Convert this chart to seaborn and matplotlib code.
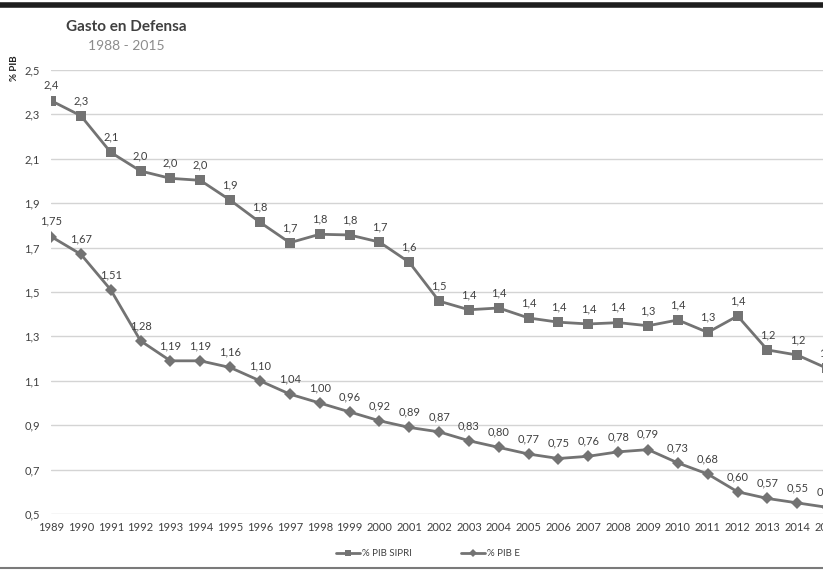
import pandas as pd
import matplotlib
matplotlib.use("Agg")
import matplotlib.pyplot as plt
import seaborn as sns
from matplotlib.ticker import FuncFormatter

# Datos
anios = list(range(1989, 2016))
pib_sipri = [2.362, 2.294, 2.129, 2.045, 2.012, 2.003, 1.914, 1.814, 1.722, 1.760,
             1.757, 1.725, 1.634, 1.459, 1.420, 1.428, 1.383, 1.364, 1.356, 1.362,
             1.348, 1.374, 1.318, 1.392, 1.239, 1.216, 1.156]
pib_e = [1.75, 1.67, 1.51, 1.28, 1.19, 1.19, 1.16, 1.10, 1.04, 1.00,
         0.96, 0.92, 0.89, 0.87, 0.83, 0.80, 0.77, 0.75, 0.76, 0.78,
         0.79, 0.73, 0.68, 0.60, 0.57, 0.55, 0.53]
series = ['% PIB SIPRI', '% PIB E']
y_ticks = [0.5, 0.7, 0.9, 1.1, 1.3, 1.5, 1.7, 1.9, 2.1, 2.3, 2.5]

df = pd.DataFrame({
    'anio': anios * 2,
    'valor': pib_sipri + pib_e,
    'serie': [series[0]] * len(anios) + [series[1]] * len(anios),
})

sns.set_style("white")
plt.rcParams['font.family'] = ['Lato', 'DejaVu Sans']

gris = '#737373'
fig = plt.figure(figsize=(8.23, 5.72), dpi=100)
ax = fig.add_axes([51 / 823, 58 / 572, 806 / 823, 444 / 572])

sns.lineplot(data=df, x='anio', y='valor', hue='serie', style='serie',
             palette={series[0]: gris, series[1]: gris},
             markers={series[0]: 's', series[1]: 'D'}, dashes=False,
             linewidth=2, markersize=6.5, markeredgewidth=0, ax=ax)

# etiquetas de datos
for serie, vals, dec in [(series[0], pib_sipri, 1), (series[1], pib_e, 2)]:
    for a, v in zip(anios, vals):
        txt = f"{v:.{dec}f}".replace('.', ',')
        ax.annotate(txt, (a, v), xytext=(0, 11), textcoords='offset points',
                    ha='center', va='center', fontsize=8, color='#404040',
                    annotation_clip=False)

ax.set_xlim(1989, 2016)
ax.set_ylim(0.5, 2.5)
ax.set_xticks(anios)
ax.set_yticks(y_ticks)
ax.yaxis.set_major_formatter(FuncFormatter(lambda v, p: f"{v:.1f}".replace('.', ',')))
ax.grid(axis='y', color='#d4d4d4', linewidth=1)
ax.grid(axis='x', visible=False)
for s in ax.spines.values():
    s.set_visible(False)
ax.tick_params(axis='both', length=0, labelsize=8, colors='#404040')
ax.tick_params(axis='x', pad=6)
ax.tick_params(axis='y', pad=8)
ax.set_xlabel('')
ax.set_ylabel('')

# leyenda
handles, labels = ax.get_legend_handles_labels()
leg = ax.legend(handles, labels, loc='center', bbox_to_anchor=(428 / 823, 1 - 554 / 572),
                bbox_transform=fig.transFigure, ncol=2, frameon=False, fontsize=7,
                handlelength=2.5, columnspacing=5, handletextpad=0.2,
                labelcolor='#404040')
for h in leg.legend_handles:
    h.set_markersize(4.5)

# titulos
fig.text(66 / 823, 1 - 27 / 572, 'Gasto en Defensa', fontsize=11, fontweight='bold',
         color='#404040', ha='left', va='center')
fig.text(126 / 823, 1 - 46 / 572, '1988 - 2015', fontsize=10, color='#8c8c8c',
         ha='center', va='center')
fig.text(15 / 823, 1 - 68 / 572, '% PIB', fontsize=7, fontweight='bold',
         color='#202020', rotation=90, ha='center', va='center')

# bandas superior e inferior
fig.add_artist(plt.Line2D([0, 1], [1 - 5 / 572] * 2, color='#1e1e1e', linewidth=4,
                          transform=fig.transFigure))
fig.add_artist(plt.Line2D([0, 1], [1 - 568 / 572] * 2, color='#7a7a7a', linewidth=1.5,
                          transform=fig.transFigure))

fig.savefig('out.png', dpi=100)
